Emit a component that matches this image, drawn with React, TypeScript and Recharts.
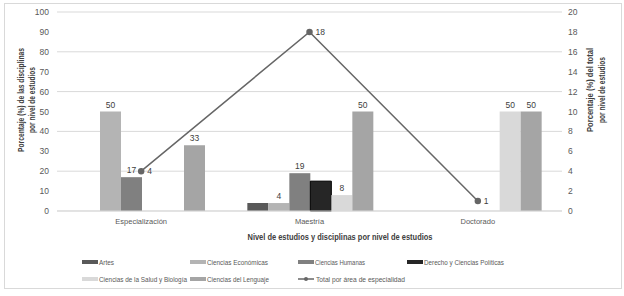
import { ComposedChart, Bar, Line, XAxis, YAxis, CartesianGrid, LabelList } from 'recharts'

const categories = ['Especialización', 'Maestría', 'Doctorado']
const artes = [0, 4, 0]
const economicas = [50, 4, 0]
const humanas = [17, 19, 0]
const derecho = [0, 15, 0]
const salud = [0, 8, 50]
const lenguaje = [33, 50, 50]
const totalArea = [4, 18, 1]
const leftTicks = [0, 10, 20, 30, 40, 50, 60, 70, 80, 90, 100]
const rightTicks = [0, 2, 4, 6, 8, 10, 12, 14, 16, 18, 20]

const FONT = '"Liberation Sans", Arial, sans-serif'

const series = [
  { key: 'artes', name: 'Artes', fill: '#595959', labels: false, w: 15 },
  { key: 'economicas', name: 'Ciencias Económicas', fill: '#b4b4b4', labels: true, w: 61 },
  { key: 'humanas', name: 'Ciencias Humanas', fill: '#808080', labels: true, w: 50 },
  { key: 'derecho', name: 'Derecho y Ciencias Políticas', fill: '#262626', labels: false, w: 80 },
  { key: 'salud', name: 'Ciencias de la Salud y Biología', fill: '#d9d9d9', labels: true, w: 88 },
  { key: 'lenguaje', name: 'Ciencias del Lenguaje', fill: '#a5a5a5', labels: true, w: 62 },
]

const data = categories.map((c, i) => ({
  name: c,
  artes: artes[i],
  economicas: economicas[i],
  humanas: humanas[i],
  derecho: derecho[i],
  salud: salud[i],
  lenguaje: lenguaje[i],
  total: totalArea[i],
}))

const hideZero = (v: any) => (v ? v : '')

const legendCols = [82, 190, 298, 407]
const legendRows = [262, 279]

export default function App() {
  return (
    <div style={{ position: 'absolute', left: 0, top: 0, width: 624, height: 296, background: '#fff', fontFamily: FONT }}>
      <ComposedChart width={624} height={296} data={data} margin={{ top: 12, right: 0, left: 0, bottom: 0 }}
        barCategoryGap={22} barGap={0}>
        <CartesianGrid yAxisId="left" vertical={false} stroke="#d9d9d9" />
        <XAxis dataKey="name" height={85} tickSize={0} tickMargin={8} axisLine={{ stroke: '#d9d9d9' }}
          tick={{ fontSize: 7.5, fill: '#595959', fontFamily: FONT }} interval={0} />
        <YAxis yAxisId="left" domain={[0, 100]} ticks={leftTicks} width={57} tickSize={0} tickMargin={8}
          axisLine={false} tick={{ fontSize: 8.5, fill: '#595959', fontFamily: FONT }} />
        <YAxis yAxisId="right" orientation="right" domain={[0, 20]} ticks={rightTicks} width={62} tickSize={0}
          tickMargin={6} axisLine={false} tick={{ fontSize: 8.5, fill: '#595959', fontFamily: FONT }} />
        {series.map(s => (
          <Bar key={s.key} yAxisId="left" dataKey={s.key} name={s.name} fill={s.fill}
            stroke={s.key === 'derecho' ? '#000' : undefined} isAnimationActive={false}>
            {s.labels && (
              <LabelList dataKey={s.key} position="top" offset={4} formatter={hideZero}
                style={{ fontSize: 8.5, fill: '#404040', fontFamily: FONT }} />
            )}
          </Bar>
        ))}
        <Line yAxisId="right" dataKey="total" name="Total por área de especialidad" stroke="#666666"
          strokeWidth={1.5} dot={{ r: 2.5, fill: '#666666', stroke: '#666666' }} isAnimationActive={false}>
          <LabelList dataKey="total" position="right" offset={6}
            style={{ fontSize: 8.5, fill: '#404040', fontFamily: FONT }} />
        </Line>
      </ComposedChart>
      <svg width={624} height={296} style={{ position: 'absolute', left: 0, top: 0, pointerEvents: 'none' }}>
        <rect x={4.5} y={3.5} width={617} height={285} fill="none" stroke="#d9d9d9" />
        <g fontFamily={FONT} fontWeight="bold" fontSize={8.5} fill="#404040" textAnchor="middle">
          <text transform="translate(21,100) rotate(-90)" dominantBaseline="central"
            textLength={104} lengthAdjust="spacingAndGlyphs">Porcentaje (%) de las disciplinas</text>
          <text transform="translate(32,100) rotate(-90)" dominantBaseline="central"
            textLength={66} lengthAdjust="spacingAndGlyphs">por nivel de estudios</text>
          <text transform="translate(590,90) rotate(-90)" dominantBaseline="central"
            textLength={84} lengthAdjust="spacingAndGlyphs">Porcentaje (%) del total</text>
          <text transform="translate(602,90) rotate(-90)" dominantBaseline="central"
            textLength={66} lengthAdjust="spacingAndGlyphs">por nivel de estudios</text>
          <text x={340} y={237} dominantBaseline="central"
            textLength={185} lengthAdjust="spacingAndGlyphs">Nivel de estudios y disciplinas  por nivel de estudios</text>
        </g>
        <g fontFamily={FONT} fontSize={7.5} fill="#595959">
          {series.map((s, i) => {
            const x = legendCols[i % 4]
            const y = legendRows[Math.floor(i / 4)]
            return (
              <g key={s.key}>
                <rect x={x} y={y - 2} width={16} height={4} fill={s.fill} />
                <text x={x + 17} y={y} dominantBaseline="central"
                  textLength={s.w} lengthAdjust="spacingAndGlyphs">{s.name}</text>
              </g>
            )
          })}
          <line x1={298} y1={279} x2={314} y2={279} stroke="#666666" strokeWidth={1.5} />
          <circle cx={306} cy={279} r={2} fill="#666666" />
          <text x={316} y={279} dominantBaseline="central"
            textLength={89} lengthAdjust="spacingAndGlyphs">Total por área de especialidad</text>
        </g>
      </svg>
    </div>
  )
}
